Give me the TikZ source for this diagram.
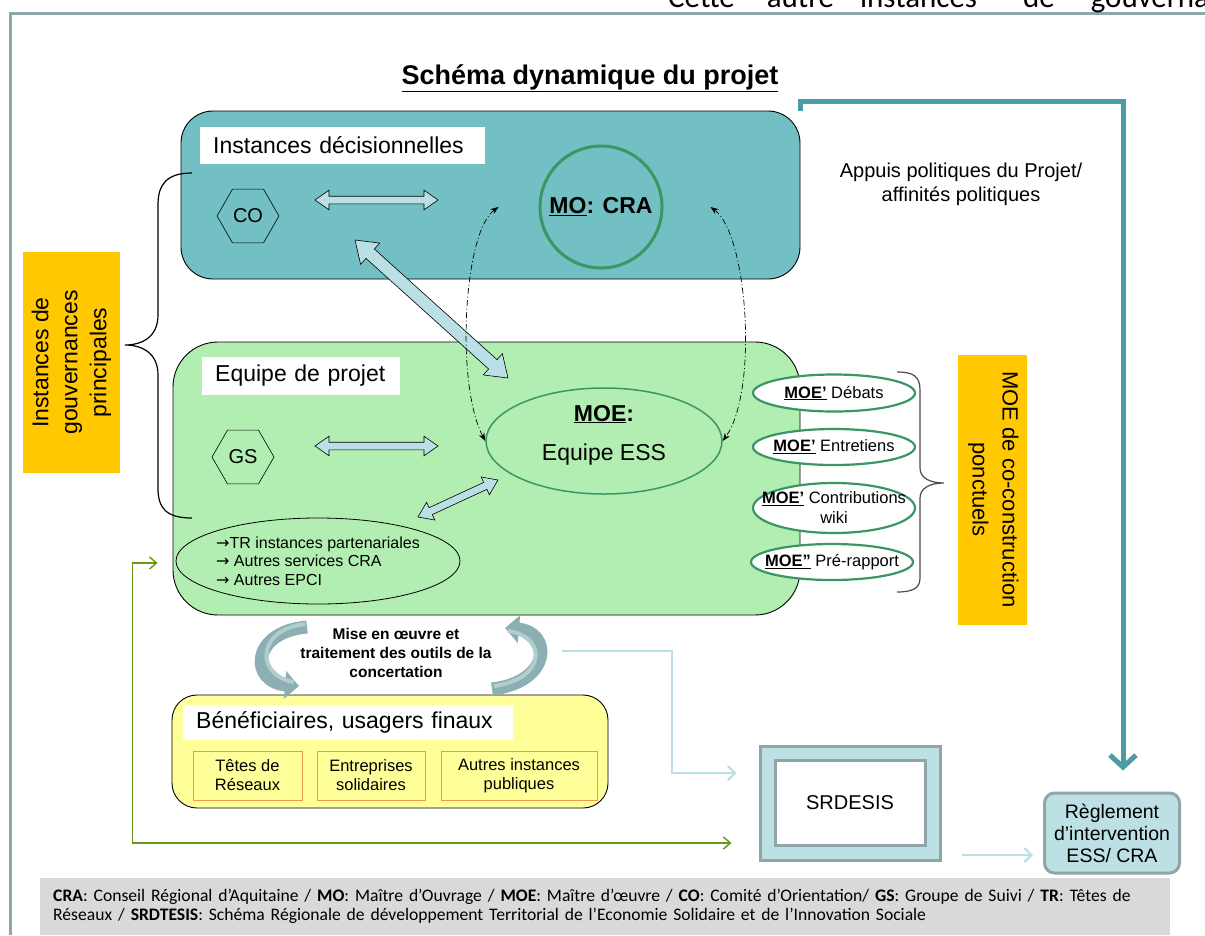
\documentclass[tikz,border=0pt]{standalone}
\usepackage{fontspec}
\setmainfont{Liberation Sans}
\newfontfamily\calib{Carlito}
\newfontfamily\symb{DejaVu Sans}
\usetikzlibrary{shapes.geometric,shapes.arrows,arrows.meta,calc}

\definecolor{framegray}{RGB}{143,166,171}
\definecolor{tealbox}{RGB}{114,191,196}
\definecolor{greenbox}{RGB}{178,238,178}
\definecolor{arrowblue}{RGB}{186,224,230}
\definecolor{mogreen}{RGB}{58,150,100}
\definecolor{gold}{RGB}{255,200,0}
\definecolor{paleyellow}{RGB}{255,255,153}
\definecolor{orangeline}{RGB}{247,150,70}
\definecolor{polteal}{RGB}{74,156,165}
\definecolor{srdfill}{RGB}{188,224,227}
\definecolor{srdline}{RGB}{143,165,168}
\definecolor{olive}{RGB}{102,154,20}
\definecolor{notegray}{RGB}{217,217,217}
\definecolor{turngray}{RGB}{140,175,180}
\definecolor{turnlight}{RGB}{178,205,208}

\newcommand\fs[2]{\fontsize{#1}{#2}\selectfont}
\newcommand\ra{{\symb →}}
\newcommand\blockarrow[4]{%
  \path let \p1=($(#2)-(#1)$), \n1={atan2(\y1,\x1)}, \n2={veclen(\x1,\y1)} in
    node[double arrow, draw=black, fill=arrowblue, line width=0.6pt, inner xsep=0pt, inner ysep=#3,
         minimum height=\n2, double arrow head extend=#4,
         double arrow tip angle=70, rotate=\n1] at ($(#1)!0.5!(#2)$) {};}

\tikzset{
  panel/.style={draw=black, line width=0.9pt, rounded corners=#1},
  labelbox/.style={fill=white, inner xsep=13pt, inner ysep=0pt, align=left, anchor=west, font=\fs{23}{26}},
  hexa/.style={regular polygon, regular polygon sides=6, draw, line width=0.6pt, minimum size=62pt, inner sep=0pt, font=\fs{20}{22}},
  moebub/.style={ellipse, draw=mogreen, line width=2.2pt, fill=white, minimum width=162pt, inner xsep=-22pt, inner ysep=-4pt, font=\fs{16.5}{20}, align=center},
  goldbox/.style={fill=gold, inner sep=0pt, align=center},
  userbox/.style={draw=orangeline, line width=0.8pt, fill=paleyellow, inner sep=0pt, minimum height=49pt, align=center, font=\fs{16.5}{19}},
  dashdot/.style={dash pattern=on 6pt off 2.5pt on 1pt off 2.5pt, line width=0.7pt, {Stealth[length=8pt,width=6pt]}-{Stealth[length=8pt,width=6pt]}},
  polarrow/.style={polteal, line width=5pt, -{Straight Barb[length=12pt,width=26pt]}},
  thinblue/.style={arrowblue, line width=2.2pt, -{Straight Barb[length=7pt,width=14pt]}},
  olivearr/.style={olive, line width=1.4pt, {Straight Barb[length=7pt,width=12pt]}-{Straight Barb[length=7pt,width=12pt]}},
  turnarrow/.style={turngray, line width=13pt, -{Triangle[length=14pt,width=27pt]}}
}

\begin{document}
\begin{tikzpicture}[x=1pt,y=-1pt]
  \useasboundingbox (0,0) rectangle (1205,935);
  \draw[framegray, line width=3pt] (10,935) -- (10,13) -- (1205,13);
  \node[anchor=base west, inner sep=0pt, font=\calib\fs{31}{34}] (pagetext) at (668,7)
    {Cette\hspace{32pt}autre\hspace{26pt}instances\hspace{46pt}de\hspace{36pt}gouvernance};

  \node[font=\bfseries\fs{27}{30}] (title) at (590,78) {\underline{Schéma dynamique du projet}};

  % panels
  \node[panel=32pt, fill=tealbox, minimum width=619pt, minimum height=168pt] (instdec) at (490.5,195) {};
  \node[panel=45pt, fill=greenbox, minimum width=627pt, minimum height=273pt] (projet) at (486.5,478.5) {};
  \node[panel=25pt, fill=paleyellow, minimum width=436pt, minimum height=113pt] (users) at (390,751.5) {};
  \node[labelbox, text width=259pt, minimum height=37pt] (instdec-lbl) at (200,145.5) {Instances décisionnelles};
  \node[labelbox, text width=172pt, minimum height=38pt] (projet-lbl) at (202,376) {Equipe de projet};
  \node[labelbox, text width=304pt, minimum height=35pt] (users-lbl) at (183,722.5) {Bénéficiaires, usagers finaux};

  \node[hexa] (co) at (248,216) {CO};
  \node[hexa] (gs) at (243,457) {GS};
  \node[circle, draw=mogreen, line width=3pt, minimum size=122pt, font=\bfseries\fs{23}{26}] (mo) at (601,207) {\underline{MO}: CRA};
  \node[ellipse, draw=mogreen, line width=1.5pt, minimum width=236pt, minimum height=106pt, inner sep=0pt,
        text depth=17pt, align=center, font=\fs{23}{39}] (moe) at (604,441)
    {\textbf{\underline{MOE}:}\\Equipe ESS};
  \node[ellipse, draw=black, line width=0.8pt, minimum width=284pt, minimum height=86pt, inner xsep=-34pt, inner ysep=-6pt,
        align=left, font=\fs{16}{18.5}] (tr) at (318,561)
    {\ra TR instances partenariales\\\ra\ Autres services CRA\\\ra\ Autres EPCI};

  \node[moebub, minimum height=37pt] (deb) at (834,393) {\textbf{\underline{MOE'}} Débats};
  \node[moebub, minimum height=36pt] (ent) at (834,447) {\textbf{\underline{MOE'}} Entretiens};
  \node[moebub, minimum height=50pt] (wiki) at (834,508) {\textbf{\underline{MOE'}} Contributions\\wiki};
  \node[moebub, minimum height=36pt] (pre) at (832,562) {\textbf{\underline{MOE''}} Pré-rapport};

  \node[goldbox, minimum width=221pt, minimum height=97pt, rotate=90, font=\fs{23}{29}] (gouv) at (71.5,362.5)
    {Instances de\\gouvernances\\principales};
  \node[goldbox, minimum width=270pt, minimum height=69pt, rotate=-90, font=\fs{22}{30}, text depth=6pt] (coconst) at (992.5,489.5)
    {MOE de co-construction\\ponctuels};

  \node[align=center, font=\fs{20}{24}] (appuis) at (961,184) {Appuis politiques du Projet/\\affinités politiques};
  \node[align=center, font=\bfseries\fs{15.5}{19}] (mise) at (396,653) {Mise en œuvre et\\traitement des outils de la\\concertation};

  \node[userbox, minimum width=109pt] (tetes) at (247.5,775.5) {Têtes de\\Réseaux};
  \node[userbox, minimum width=108pt] (entr) at (371,775.5) {Entreprises\\solidaires};
  \node[userbox, minimum width=156pt] (autres) at (519,775.5) {Autres instances\\publiques};

  \node[draw=srdline, line width=3pt, fill=srdfill, minimum width=180pt, minimum height=114pt] (srd) at (850,803) {};
  \node[draw=srdline, line width=3pt, fill=white, minimum width=150pt, minimum height=85pt, font=\fs{20}{22}] (srd-in) at (srd) {SRDESIS};
  \node[draw=srdline, line width=3pt, fill=srdfill, rounded corners=10pt, minimum width=135pt, minimum height=80pt,
        inner sep=0pt, align=center, font=\fs{19.5}{22}] (regl) at (1112,833) {Règlement\\d’intervention\\ESS/ CRA};

  \node[fill=notegray, anchor=north west, minimum width=1130pt, minimum height=57pt, text width=1104pt,
        inner xsep=13pt, align=left, font=\calib\fs{17.6}{19}] (legend) at (40,878)
    {\textbf{CRA}: Conseil Régional d’Aquitaine / \textbf{MO}: Maître d’Ouvrage / \textbf{MOE}: Maître d’œuvre / \textbf{CO}: Comité d’Orientation/ \textbf{GS}: Groupe de Suivi / \textbf{TR}: Têtes de\\
     Réseaux / \textbf{SRDTESIS}: Schéma Régionale de développement Territorial de l’Economie Solidaire et de l’Innovation Sociale};

  % braces
  \draw[line width=1.2pt] (192,173) .. controls (166,173) and (158,185) .. (158,205) -- (158,315)
    .. controls (158,337) and (142,345) .. (125,345) .. controls (142,345) and (158,353) .. (158,375)
    -- (158,488) .. controls (158,508) and (166,518) .. (192,518);
  \draw[black!70, line width=1.2pt] (897,372) .. controls (913,372) and (920,376) .. (920,390) -- (920,468)
    .. controls (920,478) and (930,483) .. (944,483) .. controls (930,483) and (920,488) .. (920,498)
    -- (920,578) .. controls (920,588) and (913,592) .. (897,592);

  % block arrows
  \coordinate (co-a) at (315,200);
  \coordinate (co-b) at (438,200);
  \coordinate (gs-a) at (315,446);
  \coordinate (gs-b) at (438,446);
  \coordinate (diag-a) at (355,240);
  \coordinate (diag-b) at (508,378);
  \coordinate (tr-a) at (418,517);
  \coordinate (tr-b) at (498,480);
  \blockarrow{co-a}{co-b}{3.5pt}{6pt}
  \blockarrow{gs-a}{gs-b}{3.5pt}{6pt}
  \blockarrow{diag-a}{diag-b}{6pt}{8pt}
  \blockarrow{tr-a}{tr-b}{3.5pt}{6pt}

  \draw[dashdot] ([xshift=-40pt]mo.west) .. controls +(-35,25) and +(-30,-57) .. (moe.west);
  \draw[dashdot] ([xshift=47pt]mo.east) .. controls +(37,27) and +(36,-50) .. (moe.east);

  % turning arrows
  \draw[turnarrow] (307,627) .. controls (250,632) and (250,682) .. (299,686);
  \draw[turnlight, line width=4pt] (305,624) .. controls (255,630) and (256,676) .. (294,682);
  \draw[turnarrow] (492,689) .. controls (552,682) and (552,632) .. (505,628);
  \draw[turnlight, line width=4pt] (494,686) .. controls (547,679) and (547,636) .. (508,631);

  % connectors
  \coordinate (mise-out) at (562,651);
  \draw[polarrow] (instdec.north east) -- ++(0,-9) -| ([xshift=11pt,yshift=21pt]regl.north);
  \draw[thinblue] (mise-out) -- ++(110,0) |- ([xshift=-22pt,yshift=30pt]srd.west);
  \draw[olivearr] ([xshift=-18pt,yshift=-2pt]tr.west) -- ++(-25,0) |- ([xshift=-27pt,yshift=-40pt]srd.west);
  \draw[thinblue] ([xshift=20pt,yshift=-52pt]srd.east) -- ([xshift=-10pt,yshift=-22pt]regl.west);
\end{tikzpicture}
\end{document}
